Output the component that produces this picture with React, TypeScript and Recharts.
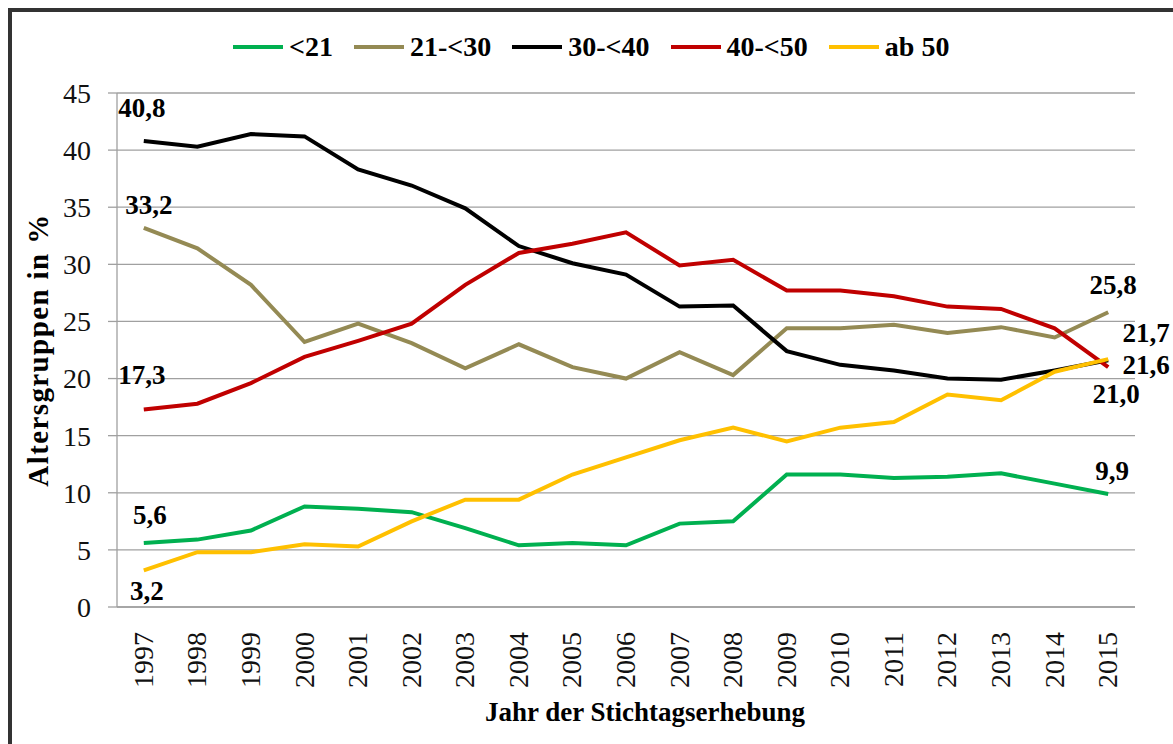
import { LineChart, Line, XAxis, YAxis, CartesianGrid, Legend, LabelList } from "recharts"

const years = ["1997", "1998", "1999", "2000", "2001", "2002", "2003", "2004", "2005", "2006", "2007", "2008", "2009", "2010", "2011", "2012", "2013", "2014", "2015"]
const under21 = [5.6, 5.9, 6.7, 8.8, 8.6, 8.3, 6.9, 5.4, 5.6, 5.4, 7.3, 7.5, 11.6, 11.6, 11.3, 11.4, 11.7, 10.8, 9.9]
const from21to30 = [33.2, 31.4, 28.2, 23.2, 24.8, 23.1, 20.9, 23.0, 21.0, 20.0, 22.3, 20.3, 24.4, 24.4, 24.7, 24.0, 24.5, 23.6, 25.8]
const from30to40 = [40.8, 40.3, 41.4, 41.2, 38.3, 36.9, 34.9, 31.6, 30.1, 29.1, 26.3, 26.4, 22.4, 21.2, 20.7, 20.0, 19.9, 20.7, 21.6]
const from40to50 = [17.3, 17.8, 19.6, 21.9, 23.3, 24.8, 28.2, 31.0, 31.8, 32.8, 29.9, 30.4, 27.7, 27.7, 27.2, 26.3, 26.1, 24.4, 21.0]
const from50 = [3.2, 4.8, 4.8, 5.5, 5.3, 7.5, 9.4, 9.4, 11.6, 13.1, 14.6, 15.7, 14.5, 15.7, 16.2, 18.6, 18.1, 20.6, 21.7]
const yTicks = [0, 5, 10, 15, 20, 25, 30, 35, 40, 45]

const data = years.map((year, i) => ({
  year,
  u21: under21[i],
  a21: from21to30[i],
  a30: from30to40[i],
  a40: from40to50[i],
  a50: from50[i],
}))

const series = [
  { key: "u21", name: "<21", color: "#00b050" },
  { key: "a21", name: "21-<30", color: "#948a54" },
  { key: "a30", name: "30-<40", color: "#000000" },
  { key: "a40", name: "40-<50", color: "#c00000" },
  { key: "a50", name: "ab 50", color: "#ffc000" },
]

// where the first / last value labels sit relative to their point (dx, dy)
const labelOffsets: Record<string, { first: [number, number]; last: [number, number] }> = {
  u21: { first: [6, -28], last: [4, -23] },
  a21: { first: [5, -23], last: [5, -27] },
  a30: { first: [-2, -33], last: [38, 5] },
  a40: { first: [-2, -34], last: [8, 27] },
  a50: { first: [3, 21], last: [38, -26] },
}

const W = 1173
const H = 744
const margin = { top: 93, right: 38, bottom: 0, left: 0 }
const yAxisWidth = 117
const plotWidth = W - margin.left - margin.right - yAxisWidth
const halfBand = plotWidth / years.length / 2

const serif = '"Liberation Serif", "Times New Roman", serif'
const gridGray = "#a0a0a0"

const fmt = (v: number) => v.toFixed(1).replace(".", ",")

function endLabels(key: string) {
  return (props: any) => {
    const { x, y, value, index } = props
    let off: [number, number] | null = null
    if (index === 0) off = labelOffsets[key].first
    else if (index === years.length - 1) off = labelOffsets[key].last
    if (!off) return null
    return (
      <text x={x + off[0]} y={y + off[1]} textAnchor="middle" dominantBaseline="central"
        fontFamily={serif} fontWeight="bold" fontSize={27} fill="#000">
        {fmt(Number(value))}
      </text>
    )
  }
}

function YearTick(props: any) {
  const { x, y, payload } = props
  return (
    <text transform={`translate(${x + 9}, ${y + 25}) rotate(-90)`} textAnchor="end"
      fontFamily={serif} fontSize={28} fill="#111">
      {payload.value}
    </text>
  )
}

function YTitle(props: any) {
  const { viewBox } = props
  const cx = viewBox.x + 38
  const cy = viewBox.y + viewBox.height / 2
  return (
    <text x={cx} y={cy} transform={`rotate(-90, ${cx}, ${cy})`} textAnchor="middle" dominantBaseline="central"
      fontFamily={serif} fontWeight="bold" fontSize={29} letterSpacing={1.4} fill="#000">
      Altersgruppen in %
    </text>
  )
}

function XTitle(props: any) {
  const { viewBox } = props
  return (
    <text x={viewBox.x + viewBox.width / 2 + 19} y={viewBox.y + 105} textAnchor="middle" dominantBaseline="central"
      fontFamily={serif} fontWeight="bold" fontSize={27} fill="#000">
      Jahr der Stichtagserhebung
    </text>
  )
}

function LegendContent() {
  return (
    <div style={{ display: "flex", alignItems: "center", paddingLeft: 233, height: 34, fontFamily: serif, fontWeight: "bold", fontSize: 28, color: "#000" }}>
      {series.map((s) => (
        <div key={s.key} style={{ display: "flex", alignItems: "center", marginRight: 21 }}>
          <span style={{ display: "inline-block", width: 50, height: 4, background: s.color, marginRight: 6 }} />
          {s.name}
        </div>
      ))}
    </div>
  )
}

export default function App() {
  return (
    <div style={{ position: "fixed", left: 0, top: 0, width: W, height: H, overflow: "hidden", background: "#fff" }}>
      <div style={{ position: "absolute", left: 8, top: 8, width: 1300, height: 900, borderLeft: "4px solid #333", borderTop: "4px solid #333" }} />
      <div style={{ position: "absolute", left: 0, top: 0 }}>
        <LineChart width={W} height={H} data={data} margin={margin}>
          <CartesianGrid vertical={false} stroke={gridGray} strokeWidth={1.3} />
          <XAxis xAxisId="marks" type="number" domain={[0, years.length]} ticks={years.map((_, i) => i).concat(years.length)}
            height={0} tick={false} axisLine={false} tickLine={{ stroke: gridGray, strokeWidth: 1.3 }} tickSize={9} allowDataOverflow />
          <XAxis dataKey="year" height={137} interval={0} tickSize={0} tickMargin={0} tickLine={false}
            padding={{ left: halfBand, right: halfBand }}
            axisLine={{ stroke: gridGray, strokeWidth: 1.3 }} tick={<YearTick />} label={<XTitle />} />
          <YAxis domain={[0, 45]} ticks={yTicks} width={yAxisWidth} tickSize={9} tickMargin={17}
            axisLine={{ stroke: gridGray, strokeWidth: 1.3 }} tickLine={{ stroke: gridGray, strokeWidth: 1.3 }}
            tick={{ fontFamily: serif, fontSize: 28, fill: "#111" }} label={<YTitle />} />
          <YAxis yAxisId="edge" orientation="right" width={0} domain={[0, 45]} tick={false} tickLine={false}
            axisLine={{ stroke: gridGray, strokeWidth: 1.3 }} />
          <Legend layout="vertical" align="center" verticalAlign="middle" wrapperStyle={{ top: 30, left: 0, width: W }} content={<LegendContent />} />
          {series.map((s) => (
            <Line key={s.key} type="linear" dataKey={s.key} name={s.name} stroke={s.color} strokeWidth={4}
              dot={false} activeDot={false} isAnimationActive={false}>
              <LabelList dataKey={s.key} content={endLabels(s.key)} />
            </Line>
          ))}
        </LineChart>
      </div>
    </div>
  )
}
